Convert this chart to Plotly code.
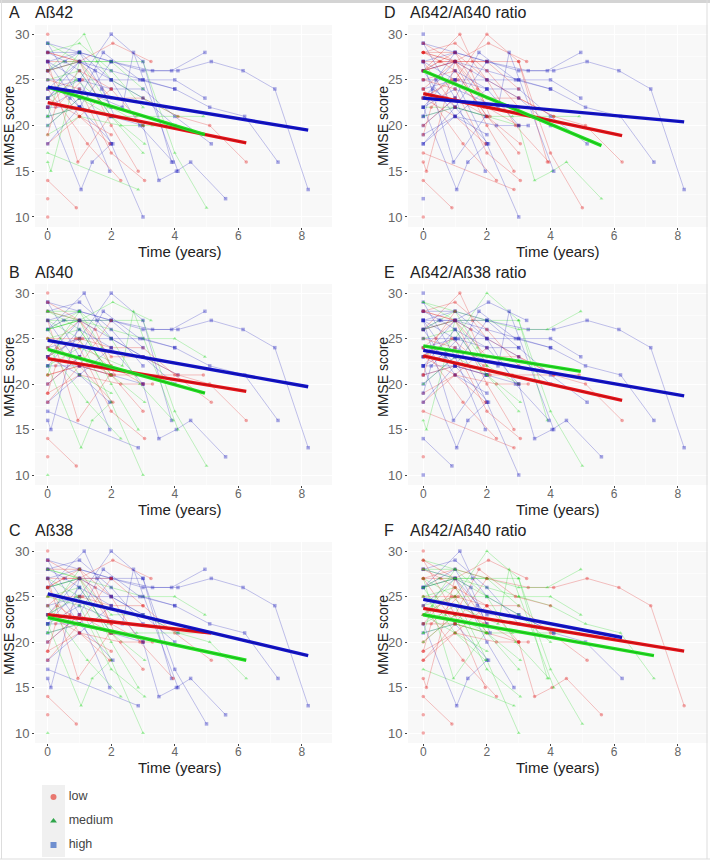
import plotly.graph_objects as go

# Follow-up visits of each patient (same patients in all panels)
TIMES = [
 [0,1,2,3.3,4.1,5.15,6.15,7.15,8.2], [0,1,2,3,3.9,4.95], [0,1,2,3,4,4.95], [0,1,2,3,4,5.1,6.2,7.25],
 [0,1,2,3,3.5,4.05,4.5,5.6], [0,2.85], [0,0.9], [0], [0], [0],
 [0,1.15,1.55,2,3,4.1], [0,1,2,3], [0,1,2,3,4,5], [0,1,2,3,3.9], [0,1,2.05,3.25],
 [0,1,1.75,2.9,4], [0,1,2.35,2.7,4.1], [0,1,2,2.85], [0,1.05,1.4,2], [0,1,1.95],
 [0,1,2,3], [0,0.95,1.95], [0,0.1,1], [0,1.25,2.3], [0,1,2,3.05],
 [0,1,2.05], [0,1,1.95], [0,1,2,3,4,5.15], [0,1,2,3,4.1,5.1,6.25], [0,1,2.3,3,3.3],
 [0,1,2,2.8,4.9], [0,1,2,2.9,3.95], [0,1,2,3], [0,0.55,1,2], [0,0.5,1,2,3],
 [0,0.3,0.7,1,2], [0,1,1.7,2], [0,1,2], [0,1,2,3], [0,1,2],
 [0,1,2,3.05], [0,1,2,3], [0,1,1.5,2.1], [0,1], [0,1],
 [0,1,2], [0,0.9,1.9], [0,1,2,3,4], [0,0.4,1], [0,0.25,1.1],
]
SCORES = [
 [27,28,27,26,26,27,26,24,13], [29,28,27,26,26,28], [26,27,26,25,25,23], [24,25,25,25,24,22,21,16],
 [22,22,21,20,14,15,16,12], [17,13], [14,11], [12], [10], [30],
 [26,30,27,25,23,21], [28,29,26,22], [26,27,27,27,17,11], [23,25,30,27,16], [27,27,29,27],
 [20,23,28,25,24], [22,24,22,28,15], [26,27,20,15], [22,13,16,18], [29,23,15],
 [27,25,18,10], [27,16,21], [16,15,27], [24,18,14], [25,24,17,14],
 [21,22,18], [23,21,18], [25,25,24,24,21,18], [28,27,23,23,21,20,16], [19,21,20,20,20],
 [21,22,21,21,21], [28,28,25,20,16], [29,27,22,20], [28,27,26,21], [26,27,27,27,24],
 [23,24,23,22,21], [26,28,24,22], [18,21,24], [20,23,21,17], [18,22,27],
 [25,26,21,18], [22,26,24,20], [24,27,26,21], [28,27], [27,22],
 [26,21,19], [23,25,22], [23,27,25,23,20], [21,25,28], [19,22,25],
]

# Tertile of each patient in each panel: l = low, m = medium, h = high
GROUP_A = list("hhhhh" "mllll" "mmmhl" "hhlhh" "hlmll" "hlhlm" "mhmhm" "hhlmh" "mlhlh" "lmhml")
GROUP_B = list("hhmhh" "hllml" "hhmhm" "hmmmh" "mlhml" "lhlll" "lmlmh" "lmhll" "mhlmh" "mlhml")
GROUP_C = list("hhmhh" "hllml" "hhhhl" "hhmmh" "mlhmm" "hllml" "mllhl" "llhll" "mhlmh" "lmhml")
GROUP_D = list("hhhhm" "llhlh" "lllll" "hhlhh" "hhlll" "hlhlh" "mllll" "hlhlh" "lhlll" "hlhhl")
GROUP_E = list("hmhhh" "lhlhh" "llmmh" "hhlhh" "hhmll" "hlhll" "lhmhh" "hmlmh" "mhllh" "hlhlh")
GROUP_F = list("lmmml" "mllll" "hhmml" "lmhhl" "mmllm" "hmlhl" "mmllm" "mhlml" "mlhml" "mlmml")

PANEL_LETTERS = ["A", "B", "C", "D", "E", "F"]
PANEL_TITLES = ["Aß42", "Aß40", "Aß38", "Aß42/Aß40 ratio", "Aß42/Aß38 ratio", "Aß42/Aß40 ratio"]
PANEL_GROUPS = [GROUP_A, GROUP_B, GROUP_C, GROUP_D, GROUP_E, GROUP_F]

# Mean trajectories per panel: end time and (start, end) score per group
FIT_LOW = [(6.25,22.5,18.1), (6.25,22.8,19.2), (5.15,23.0,21.0), (6.25,23.5,18.9), (6.25,23.1,18.2), (8.2,23.7,19.0)]
FIT_MED = [(4.95,24.2,19.0), (4.95,23.8,19.0), (6.25,22.7,18.0), (5.6,26.0,17.8), (4.95,24.2,21.4), (7.25,23.0,18.5)]
FIT_HIGH = [(8.2,24.2,19.5), (8.2,24.8,19.7), (8.2,25.3,18.5), (8.2,23.0,20.4), (8.2,23.7,18.7), (6.25,24.7,20.5)]

LEGEND_LABELS = ["low", "medium", "high"]
XTICKS = [0, 2, 4, 6, 8]
YTICKS = [10, 15, 20, 25, 30]

W, H = 710, 861
COL = {"l": "rgba(225,30,30,{a})", "m": "rgba(30,215,30,{a})", "h": "rgba(30,30,190,{a})"}
SYM = {"l": "circle", "m": "triangle-up", "h": "square"}
FITCOL = {"l": "#e8141a", "m": "#22e022", "h": "#1414cc"}
BOX_X = [(35, 332)] * 3 + [(408, 708)] * 3
BOX_Y = [(25, 227), (284, 485), (542, 743)] * 2
YTITLE_CENTER = [126, 377, 635] * 2

fig = go.Figure()
layout = {}
annotations = []
for i in range(6):
    n = "" if i == 0 else str(i + 1)
    xa, ya = "x" + n, "y" + n
    x0, x1 = BOX_X[i]
    y0, y1 = BOX_Y[i]
    xlo = -0.4 if i < 3 else -0.48
    xhi = 8.95
    layout["xaxis" + n] = dict(
        domain=[x0 / W, x1 / W], range=[xlo, xhi], anchor=ya, tickvals=XTICKS, ticks="outside", ticklen=2,
        tickcolor="#444", tickfont=dict(size=12, color="#666"), showline=False, zeroline=False,
        gridcolor="#ffffff", gridwidth=1, ticklabelstandoff=-4,
        minor=dict(tickvals=[1, 3, 5, 7], showgrid=True, gridcolor="#fcfcfc", ticks=""),
    )
    layout["yaxis" + n] = dict(
        domain=[1 - y1 / H, 1 - y0 / H], range=[8.9, 31], anchor=xa, tickvals=YTICKS, ticks="outside", ticklen=2,
        tickcolor="#444", tickfont=dict(size=13, color="#666"), showline=False, zeroline=False,
        gridcolor="#ffffff", gridwidth=1,
        minor=dict(tickvals=[12.5, 17.5, 22.5, 27.5], showgrid=True, gridcolor="#fcfcfc", ticks=""),
    )
    for t, s, g in zip(TIMES, SCORES, PANEL_GROUPS[i]):
        fig.add_trace(go.Scatter(
            x=t, y=s, xaxis=xa, yaxis=ya, mode="lines+markers", showlegend=False, hoverinfo="skip",
            line=dict(color=COL[g].format(a=0.27), width=1),
            marker=dict(symbol=SYM[g], size=3.5, color=COL[g].format(a=0.38), line=dict(width=0)),
        ))
    for key, fit in (("l", FIT_LOW), ("m", FIT_MED), ("h", FIT_HIGH)):
        tend, s0, s1 = fit[i]
        fig.add_trace(go.Scatter(
            x=[0, tend], y=[s0, s1], xaxis=xa, yaxis=ya, mode="lines", showlegend=False, hoverinfo="skip",
            line=dict(color=FITCOL[key], width=3.4),
        ))
        fig.add_trace(go.Scatter(
            x=[0, tend], y=[s0, s1], xaxis=xa, yaxis=ya, mode="lines", showlegend=False, hoverinfo="skip",
            line=dict(color="rgba(0,0,0,0.2)", width=1),
        ))
    # Letter, panel name and axis titles
    lx = 7 if i < 3 else 382
    for text, px, size in ((PANEL_LETTERS[i], lx, 16), (PANEL_TITLES[i], lx + 26, 16)):
        annotations.append(dict(
            text=text, xref="paper", yref="paper", x=px / W, y=1 - (y0 - 12) / H, xanchor="left", yanchor="middle",
            showarrow=False, font=dict(size=size, color="#222"),
        ))
    annotations.append(dict(
        text="Time (years)", xref="paper", yref="paper", x=(180 if i < 3 else 558) / W, y=1 - (y1 + 24) / H,
        xanchor="center", yanchor="middle", showarrow=False, font=dict(size=15, color="#222"),
    ))
    annotations.append(dict(
        text="MMSE score", xref="paper", yref="paper", x=(9 if i < 3 else 383) / W, y=1 - YTITLE_CENTER[i] / H,
        xanchor="center", yanchor="middle", showarrow=False, textangle=-90, font=dict(size=14, color="#222"),
    ))

# Legend drawn on its own small axes
layout["xaxis7"] = dict(domain=[42 / W, 65 / W], range=[-1, 1], visible=False, anchor="y7")
layout["yaxis7"] = dict(domain=[1 - 857 / H, 1 - 785 / H], range=[0.5, 3.5], visible=False, anchor="x7")
LEG_COL = {"l": "#e8776f", "m": "#2fa54a", "h": "#6f8fcf"}
for k, (key, label) in enumerate(zip("lmh", LEGEND_LABELS)):
    fig.add_trace(go.Scatter(
        x=[0], y=[3 - k], xaxis="x7", yaxis="y7", mode="markers+text", text=["   " + label],
        textposition="middle right", textfont=dict(size=12.5, color="#444"), cliponaxis=False,
        marker=dict(symbol=SYM[key], size=6, color=LEG_COL[key]), showlegend=False, hoverinfo="skip",
    ))

shapes = [
    dict(type="rect", xref="paper", yref="paper", x0=0, x1=1, y0=1 - 3 / H, y1=1, fillcolor="#d4d4d4", line_width=0),
    dict(type="line", xref="paper", yref="paper", x0=1.5 / W, x1=1.5 / W, y0=2 / H, y1=1, line=dict(color="#dddddd", width=1)),
    dict(type="line", xref="paper", yref="paper", x0=707 / W, x1=707 / W, y0=2 / H, y1=1, line=dict(color="#dddddd", width=1)),
    dict(type="line", xref="paper", yref="paper", x0=0, x1=1, y0=2 / H, y1=2 / H, line=dict(color="#dddddd", width=1)),
    dict(type="rect", xref="paper", yref="paper", x0=42 / W, x1=65 / W, y0=1 - 857 / H, y1=1 - 785 / H,
         fillcolor="#f0f0f0", line_width=0, layer="below"),
]
for i in range(6):
    shapes.append(dict(type="rect", xref="paper", yref="paper", x0=BOX_X[i][0] / W, x1=BOX_X[i][1] / W,
                       y0=1 - BOX_Y[i][1] / H, y1=1 - BOX_Y[i][0] / H, fillcolor="#f8f8f8", line_width=0, layer="below"))

fig.update_layout(
    width=W, height=H, margin=dict(l=0, r=0, t=0, b=0), paper_bgcolor="white", plot_bgcolor="rgba(0,0,0,0)",
    font=dict(family="Liberation Sans, Arial, sans-serif"), annotations=annotations, shapes=shapes, **layout,
)
fig.write_html("out.html", config={"displayModeBar": False},
               post_script="document.body.style.margin='0';document.body.style.overflow='hidden';")
